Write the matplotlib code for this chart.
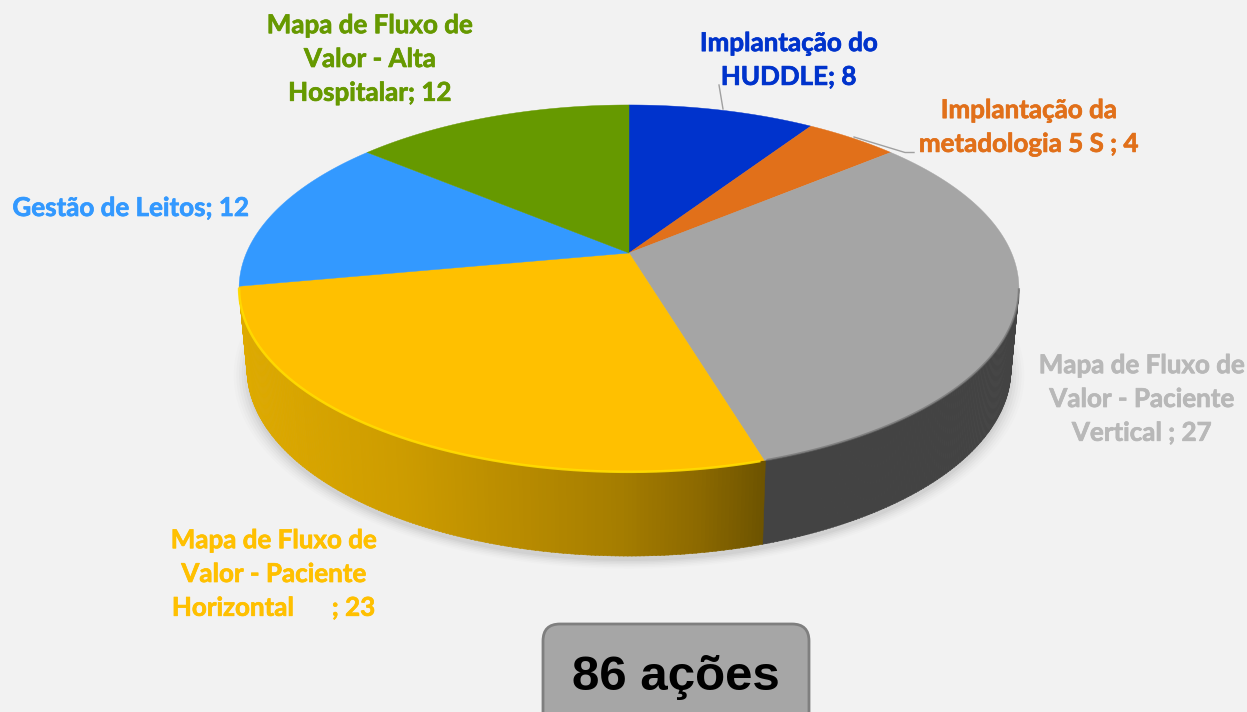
import numpy as np
import matplotlib
matplotlib.use("Agg")
import matplotlib.pyplot as plt
import matplotlib.patheffects as pe
from matplotlib.patches import FancyBboxPatch

categories = ["Implantação do\nHUDDLE; 8", "Implantação da\nmetadologia 5 S ; 4",
              "Mapa de Fluxo de\nValor - Paciente\nVertical ; 27",
              "Mapa de Fluxo de\nValor - Paciente\nHorizontal      ; 23",
              "Gestão de Leitos; 12", "Mapa de Fluxo de\nValor - Alta\nHospitalar; 12"]
values = [8, 4, 27, 23, 12, 12]
colors = ["#0033cc", "#e1701a", "#a5a5a5", "#ffc000", "#3399ff", "#669900"]
text_colors = ["#0033cc", "#e1701a", "#b8b8b8", "#ffc000", "#3399ff", "#669900"]
label_pos = [(789, 60), (1029, 127), (1142, 399), (274, 574), (131, 208), (370, 59)]
total_label = "86 ações"

BG = "#f2f2f2"
fig = plt.figure(figsize=(12.47, 7.12), dpi=100, facecolor=BG)
ax = fig.add_axes([0, 0, 1, 1])
ax.set_xlim(0, 1247); ax.set_ylim(712, 0); ax.axis("off")

CX, CY, K = 629.0, 253.0, 0.193

def proj(deg, bx=382.6, ay=176.6, dy=0.0, r=1.0):
    t = np.radians(deg)
    x, y = r * np.sin(t), r * np.cos(t)
    w = 1 + K * y
    return CX + bx * x / w, CY + dy - ay * y / w

edges = np.concatenate([[0], np.cumsum(values)]) * 360.0 / sum(values)
BASE = dict(bx=374.8, ay=180.0, dy=80.0)

# soft shadow
th = np.linspace(0, 360, 361)
for grow, a in [(1.035, .012), (1.028, .015), (1.021, .018), (1.014, .022), (1.007, .028), (1.0, .035)]:
    sx, sy = proj(th, bx=BASE["bx"] * grow, ay=BASE["ay"] * grow, dy=BASE["dy"] + 5)
    ax.fill(sx, sy, color="#000000", alpha=a, lw=0, zorder=1)

# side wall
gold_x = [240, 400, 520, 620, 700, 762]
gold_r = [222, 205, 184, 165, 140, 110]
gold_g = [170, 156, 139, 125, 105, 84]
step = 0.5
for a in np.arange(101.1, 258.9, step):
    b = a + step + 0.1
    tx, ty = proj(np.array([a, b]))
    fx, fy = proj(np.array([b, a]), **BASE)
    mid = a + step / 2
    if mid < edges[3]:
        c = "#434343"
    else:
        m = tx.mean()
        c = (np.interp(m, gold_x, gold_r) / 255, np.interp(m, gold_x, gold_g) / 255, 0)
    ax.fill(np.r_[tx, fx], np.r_[ty, fy], color=c, lw=0.4, zorder=2)

# top surface
for i, c in enumerate(colors):
    arc = np.linspace(edges[i], edges[i + 1], 120)
    ax_, ay_ = proj(arc)
    ax.fill(np.r_[CX, ax_], np.r_[CY, ay_], color=c, lw=0.3, zorder=3)

# bevel rims
arc = np.linspace(edges[3] + 0.5, edges[4] - 0.5, 200)
rx, ry = proj(arc)
ax.plot(rx, ry, color="#ffdc00", lw=1.8, zorder=4, solid_capstyle="butt", alpha=0.9)
arc = np.linspace(101.1, edges[3] - 0.3, 200)
rx, ry = proj(arc)
ax.plot(rx, ry, color="#6b6b6b", lw=1.6, zorder=4, solid_capstyle="butt", alpha=0.6)

# leaders
ax.plot([719, 723], [85, 109], color="#a0a0a0", lw=1, zorder=5)
ax.plot([854, 905, 914], [137, 152.5, 152.5], color="#a0a0a0", lw=1, zorder=5)

# labels
for s, c, (x, y) in zip(categories, text_colors, label_pos):
    ax.text(x, y, s, color=c, ha="center", va="center", family="Lato",
            fontweight="bold", fontsize=18.7, linespacing=1.49, zorder=6,
            path_effects=[pe.withStroke(linewidth=0.5, foreground=c)])

box = FancyBboxPatch((543, 624), 266, 120, boxstyle="round,pad=0,rounding_size=17",
                     fc="#a6a6a6", ec="#7f7f7f", lw=2, zorder=5)
ax.add_patch(box)
ax.text(676, 677, total_label, ha="center", va="center", family="Liberation Sans",
        fontweight="bold", fontsize=35.5, color="black", zorder=6)

fig.savefig("out.png", dpi=100, facecolor=BG)
